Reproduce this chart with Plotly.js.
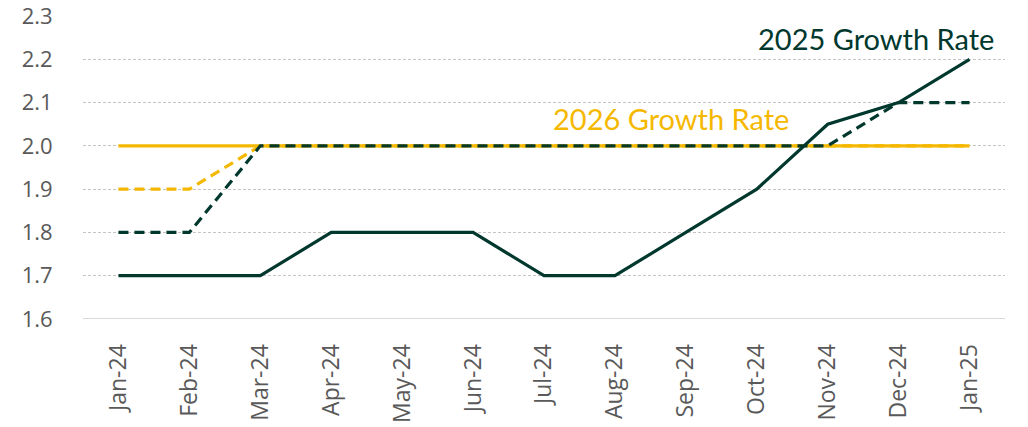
<!DOCTYPE html>
<html><head><meta charset="utf-8">
<script src="https://cdn.plot.ly/plotly-3.0.1.min.js"></script>
<style>html,body{margin:0;padding:0;background:#fff;}#chart{width:1028px;height:427px;}</style>
</head><body><div id="chart"></div>
<script>
const months = ["Jan-24","Feb-24","Mar-24","Apr-24","May-24","Jun-24","Jul-24","Aug-24","Sep-24","Oct-24","Nov-24","Dec-24","Jan-25"];
const growth2025Actual = [1.7,1.7,1.7,1.8,1.8,1.8,1.7,1.7,1.8,1.9,2.05,2.1,2.2];
const growth2025Prior  = [1.8,1.8,2.0,2.0,2.0,2.0,2.0,2.0,2.0,2.0,2.0,2.1,2.1];
const growth2026Actual = [2.0,2.0,2.0,2.0,2.0,2.0,2.0,2.0,2.0,2.0,2.0,2.0,2.0];
const growth2026Prior  = [1.9,1.9,2.0,2.0,2.0,2.0,2.0,2.0,2.0,2.0,2.0,2.0,2.0];
const yTicks = [1.6,1.7,1.8,1.9,2.0,2.1,2.2,2.3];

const DARK = "#00382e", GOLD = "#f5b800";
const traces = [
  {x: months, y: growth2026Actual, mode: "lines", line: {color: GOLD, width: 3.2}},
  {x: months, y: growth2026Prior, mode: "lines", line: {color: GOLD, width: 3.2, dash: "10px,6px"}},
  {x: months, y: growth2025Prior, mode: "lines", line: {color: DARK, width: 3.2, dash: "10px,6px"}},
  {x: months, y: growth2025Actual, mode: "lines", line: {color: DARK, width: 3.2}}
];
const layout = {
  width: 1028, height: 427,
  margin: {l: 83, r: 23, t: 16, b: 108},
  showlegend: false,
  paper_bgcolor: "#fff", plot_bgcolor: "#fff",
  font: {family: "Open Sans, sans-serif", color: "#595959", size: 22},
  xaxis: {type: "category", range: [-0.5, 12.5], tickangle: -90, showgrid: false,
          showline: false, zeroline: false, ticks: "outside", ticklen: 15, tickcolor: "rgba(0,0,0,0)",
          ticklabeloverflow: "allow",
          tickfont: {family: "Open Sans, sans-serif", size: 23, color: "#595959"}},
  yaxis: {range: [1.6, 2.3], tickvals: yTicks, ticktext: yTicks.map(v => v.toFixed(1)),
          showgrid: true, gridcolor: "#c4c4c4", griddash: "3px,2px", gridwidth: 1,
          zeroline: false, showline: false, ticks: "outside", ticklen: 25, tickcolor: "rgba(0,0,0,0)",
          ticklabeloverflow: "allow",
          tickfont: {family: "Open Sans, sans-serif", size: 22, color: "#595959"}},
  shapes: [{type: "line", xref: "paper", yref: "y", x0: 0, x1: 1, y0: 1.6, y1: 1.6,
            line: {color: "#d9d9d9", width: 2}}],
  annotations: [
    {text: "2025 Growth Rate", x: 10.68, y: 2.249, xref: "x", yref: "y", showarrow: false,
     font: {family: "Lato, sans-serif", size: 29, color: DARK}},
    {text: "2026 Growth Rate", x: 7.79, y: 2.063, xref: "x", yref: "y", showarrow: false,
     font: {family: "Lato, sans-serif", size: 29, color: GOLD}}
  ]
};
Plotly.newPlot("chart", traces, layout, {displayModeBar: false, staticPlot: true});
</script></body></html>
